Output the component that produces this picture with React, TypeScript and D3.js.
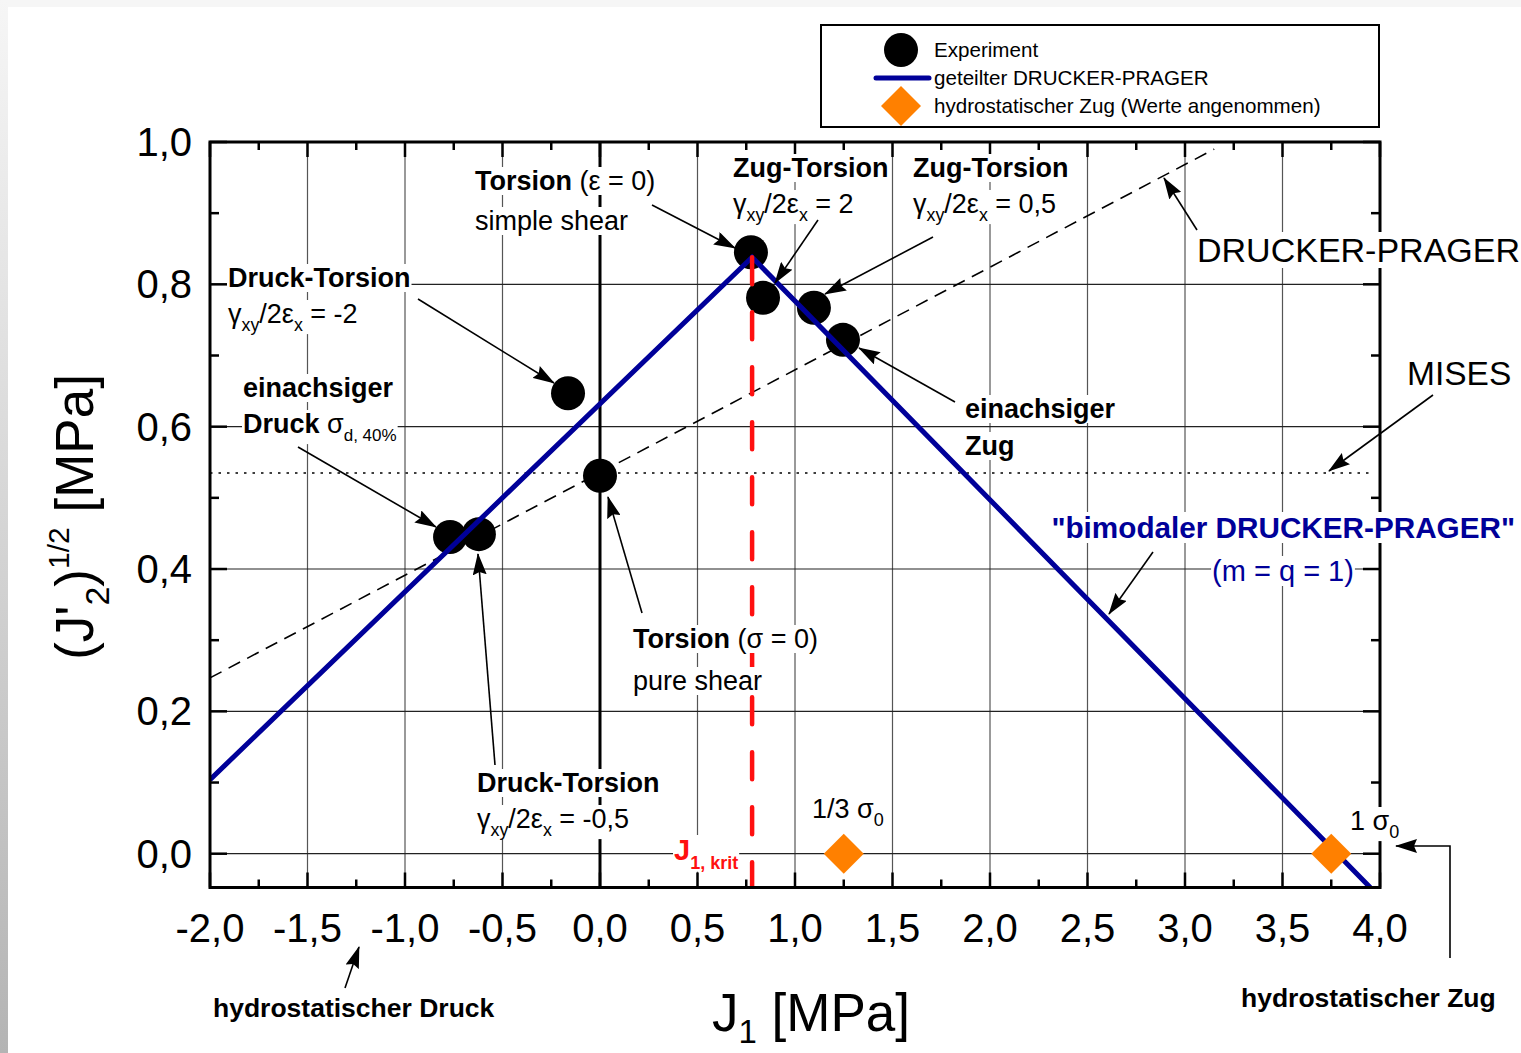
import React, { useEffect, useRef } from 'react';
import * as d3 from 'd3';

// ---- data -------------------------------------------------------------
const J1_TICKS = [-2, -1.5, -1, -0.5, 0, 0.5, 1, 1.5, 2, 2.5, 3, 3.5, 4];
const J1_MINOR = [-1.75, -1.25, -0.75, -0.25, 0.25, 0.75, 1.25, 1.75, 2.25, 2.75, 3.25, 3.75];
const J2_TICKS = [0, 0.2, 0.4, 0.6, 0.8, 1.0];
const J2_MINOR = [0.1, 0.3, 0.5, 0.7, 0.9];

// experiment points: J1 [MPa], (J'2)^1/2 [MPa]
const expJ1 = [0.774, 0.836, 1.097, 1.246, -0.164, -0.769, -0.621, 0.0];
const expJ2 = [0.845, 0.781, 0.767, 0.722, 0.647, 0.445, 0.449, 0.531];

// split (bimodal) Drucker-Prager
const bimodalJ1 = [-2.0, 0.78, 3.95];
const bimodalJ2 = [0.104, 0.838, -0.0475];

// classic Drucker-Prager (dashed)
const dpJ1 = [-2.0, 3.15];
const dpJ2 = [0.247, 0.99];

// von Mises (dotted)
const misesJ1 = [-2.0, 3.97];
const misesJ2 = [0.535, 0.535];

// hydrostatic tension (assumed values)
const hydroJ1 = [1.25, 3.75];
const hydroJ2 = [0, 0];

const J1_KRIT = 0.78;

// ---- style -----------------------------------------------------------
const FONT = "'Liberation Sans', Arial, Helvetica, sans-serif";
const BLUE = '#000099';
const ORANGE = '#ff8000';
const RED = '#ff1010';

type Part = { t: string; b?: boolean; sub?: boolean; sup?: boolean; s?: number; dy?: number };
type Sel = d3.Selection<any, any, any, any>;

// decimal comma and a plain hyphen as minus sign
const fmt = (v: number) => d3.format('.1f')(v).replace('.', ',').replace('\u2212', '-');

function rich(
  g: Sel,
  x: number,
  y: number,
  parts: Part[],
  o: { size: number; anchor?: string; fill?: string; bg?: boolean; transform?: string }
) {
  const text = g
    .append('text')
    .attr('x', x)
    .attr('y', y)
    .attr('font-size', o.size)
    .attr('font-family', FONT)
    .attr('fill', o.fill || '#000')
    .attr('text-anchor', o.anchor || 'start')
    .attr('style', 'white-space:pre');
  if (o.transform) text.attr('transform', o.transform);
  let shift = 0;
  parts.forEach((p) => {
    const target =
      p.dy !== undefined ? p.dy : p.sub ? o.size * 0.3 : p.sup ? -o.size * 0.45 : 0;
    const ts = text.append('tspan').text(p.t).attr('dy', target - shift);
    shift = target;
    if (p.sub || p.sup) ts.attr('font-size', p.s || o.size * 0.66);
    if (p.b) ts.attr('font-weight', 'bold');
  });
  if (o.bg) {
    const bb = (text.node() as SVGTextElement).getBBox();
    g.insert('rect', () => text.node())
      .attr('x', bb.x - 1)
      .attr('y', bb.y + 1)
      .attr('width', bb.width + 2)
      .attr('height', bb.height - 2)
      .attr('fill', '#fff');
  }
  return text;
}

const gamma = (rest: string): Part[] => [
  { t: 'γ' },
  { t: 'xy', sub: true },
  { t: '/2ε' },
  { t: 'x', sub: true },
  { t: rest },
];

function draw(root: Sel) {
  const W = 1521;
  const H = 1053;
  const L = 210, R = 1380, T = 142, B = 887.5;

  const x = d3.scaleLinear().domain([-2, 4]).range([L, R]);
  const y = d3.scaleLinear().domain([-0.0475, 1.0]).range([B, T]);

  const defs = root.append('defs');
  const grad = defs
    .append('linearGradient')
    .attr('id', 'edge')
    .attr('x1', 0)
    .attr('y1', 0)
    .attr('x2', 0)
    .attr('y2', 1);
  grad.append('stop').attr('offset', 0).attr('stop-color', '#f6f6f6');
  grad.append('stop').attr('offset', 1).attr('stop-color', '#b4b4b4');
  defs
    .append('clipPath')
    .attr('id', 'plotclip')
    .append('rect')
    .attr('x', L)
    .attr('y', T)
    .attr('width', R - L)
    .attr('height', B - T);
  defs
    .append('marker')
    .attr('id', 'arrow')
    .attr('viewBox', '0 0 22 14')
    .attr('refX', 21)
    .attr('refY', 7)
    .attr('markerWidth', 22)
    .attr('markerHeight', 14)
    .attr('markerUnits', 'userSpaceOnUse')
    .attr('orient', 'auto')
    .append('path')
    .attr('d', 'M0,0 L22,7 L0,14 L3,7 Z')
    .attr('fill', '#000');

  // page background
  root.append('rect').attr('width', W).attr('height', H).attr('fill', '#fff');
  root.append('rect').attr('width', W).attr('height', 7).attr('fill', '#f6f6f6');
  root.append('rect').attr('y', 0).attr('width', 8).attr('height', H).attr('fill', 'url(#edge)');

  const g = root.append('g');

  // grid
  g.append('g')
    .selectAll('line')
    .data(J1_TICKS.slice(1, -1))
    .join('line')
    .attr('x1', (d) => x(d))
    .attr('x2', (d) => x(d))
    .attr('y1', T)
    .attr('y2', B)
    .attr('stroke', '#555')
    .attr('stroke-width', 1.2);
  g.append('g')
    .selectAll('line')
    .data(J2_TICKS.slice(0, -1))
    .join('line')
    .attr('x1', L)
    .attr('x2', R)
    .attr('y1', (d) => y(d))
    .attr('y2', (d) => y(d))
    .attr('stroke', '#222')
    .attr('stroke-width', 1.2);

  // J1 = 0 axis
  g.append('line')
    .attr('x1', x(0))
    .attr('x2', x(0))
    .attr('y1', T)
    .attr('y2', B)
    .attr('stroke', '#000')
    .attr('stroke-width', 3);

  const plot = g.append('g').attr('clip-path', 'url(#plotclip)');
  const path2 = (xs: number[], ys: number[]) =>
    d3.line()(xs.map((v, i) => [x(v), y(ys[i])] as [number, number]));

  // Mises
  plot
    .append('path')
    .attr('d', path2(misesJ1, misesJ2))
    .attr('stroke', '#000')
    .attr('stroke-width', 1.6)
    .attr('stroke-dasharray', '2.5 6')
    .attr('fill', 'none');
  // Drucker-Prager
  plot
    .append('path')
    .attr('d', path2(dpJ1, dpJ2))
    .attr('stroke', '#000')
    .attr('stroke-width', 1.6)
    .attr('stroke-dasharray', '13 8')
    .attr('fill', 'none');

  // experiments
  plot
    .append('g')
    .selectAll('circle')
    .data(expJ1)
    .join('circle')
    .attr('cx', (d) => x(d))
    .attr('cy', (_, i) => y(expJ2[i]))
    .attr('r', 17)
    .attr('fill', '#000');

  // bimodal Drucker-Prager
  plot
    .append('path')
    .attr('d', path2(bimodalJ1, bimodalJ2))
    .attr('stroke', BLUE)
    .attr('stroke-width', 5)
    .attr('stroke-linejoin', 'miter')
    .attr('fill', 'none');

  // J1,krit
  plot
    .append('line')
    .attr('x1', x(J1_KRIT))
    .attr('x2', x(J1_KRIT))
    .attr('y1', y(bimodalJ2[1]))
    .attr('y2', B)
    .attr('stroke', RED)
    .attr('stroke-width', 4.5)
    .attr('stroke-dasharray', '27 28')
    .attr('stroke-linecap', 'round');

  // hydrostatic tension
  const diamond = d3.symbol().type(d3.symbolSquare).size(800);
  plot
    .append('g')
    .selectAll('path')
    .data(hydroJ1)
    .join('path')
    .attr('d', diamond() as string)
    .attr('transform', (d, i) => `translate(${x(d)},${y(hydroJ2[i])}) rotate(45)`)
    .attr('fill', ORANGE);

  // frame + ticks
  g.append('rect')
    .attr('x', L)
    .attr('y', T)
    .attr('width', R - L)
    .attr('height', B - T)
    .attr('fill', 'none')
    .attr('stroke', '#000')
    .attr('stroke-width', 3);
  const tk = g.append('g').attr('stroke', '#000').attr('stroke-width', 2.5);
  const xt = (vals: number[], len: number) => {
    vals.forEach((v) => {
      tk.append('line').attr('x1', x(v)).attr('x2', x(v)).attr('y1', B).attr('y2', B - len);
      tk.append('line').attr('x1', x(v)).attr('x2', x(v)).attr('y1', T).attr('y2', T + len);
    });
  };
  const yt = (vals: number[], len: number) => {
    vals.forEach((v) => {
      tk.append('line').attr('x1', L).attr('x2', L + len).attr('y1', y(v)).attr('y2', y(v));
      tk.append('line').attr('x1', R).attr('x2', R - len).attr('y1', y(v)).attr('y2', y(v));
    });
  };
  xt(J1_TICKS, 15);
  xt(J1_MINOR, 8);
  yt(J2_TICKS, 17);
  yt(J2_MINOR, 9);

  // tick labels
  const tl = g.append('g').attr('font-family', FONT).attr('font-size', 40).attr('fill', '#000');
  J1_TICKS.forEach((v) => {
    tl.append('text').attr('x', x(v)).attr('y', 942).attr('text-anchor', 'middle').text(fmt(v));
  });
  J2_TICKS.forEach((v) => {
    tl.append('text').attr('x', 192).attr('y', y(v) + 14).attr('text-anchor', 'end').text(fmt(v));
  });

  // axis titles
  rich(g, 712, 1031, [{ t: 'J' }, { t: '1', sub: true, s: 33, dy: 12 }, { t: ' [MPa]' }], {
    size: 53,
  });
  rich(
    g,
    0,
    0,
    [
      { t: '(J\'' },
      { t: '2', sub: true, s: 34 },
      { t: ')' },
      { t: '1/2', sup: true, s: 30 },
      { t: ' [MPa]' },
    ],
    { size: 53, anchor: 'middle', transform: 'translate(93,517) rotate(-90)' }
  );

  // annotations
  const A = 27;
  const an = g.append('g');
  rich(an, 475, 190, [{ t: 'Torsion', b: true }, { t: ' (ε = 0)' }], { size: A, bg: true });
  rich(an, 475, 230, [{ t: 'simple shear' }], { size: A, bg: true });

  rich(an, 228, 287, [{ t: 'Druck-Torsion', b: true }], { size: A, bg: true });
  rich(an, 228, 323, gamma(' = -2'), { size: A, bg: true });

  rich(an, 243, 397, [{ t: 'einachsiger', b: true }], { size: A, bg: true });
  rich(an, 243, 433, [{ t: 'Druck', b: true }, { t: ' σ' }, { t: 'd, 40%', sub: true, s: 17 }], {
    size: A,
    bg: true,
  });

  rich(an, 733, 177, [{ t: 'Zug-Torsion', b: true }], { size: A, bg: true });
  rich(an, 733, 213, gamma(' = 2'), { size: A, bg: true });
  rich(an, 913, 177, [{ t: 'Zug-Torsion', b: true }], { size: A, bg: true });
  rich(an, 913, 213, gamma(' = 0,5'), { size: A, bg: true });

  rich(an, 965, 418, [{ t: 'einachsiger', b: true }], { size: A, bg: true });
  rich(an, 965, 455, [{ t: 'Zug', b: true }], { size: A, bg: true });

  rich(an, 1197, 262, [{ t: 'DRUCKER-PRAGER' }], { size: 34, bg: true });
  rich(an, 1407, 385, [{ t: 'MISES' }], { size: 33.5, bg: true });

  rich(an, 1515, 538, [{ t: '"bimodaler DRUCKER-PRAGER"', b: true }], {
    size: 29.7,
    anchor: 'end',
    fill: BLUE,
    bg: true,
  });
  rich(an, 1283, 581, [{ t: '(m = q = 1)' }], { size: 29, anchor: 'middle', fill: BLUE, bg: true });

  rich(an, 633, 648, [{ t: 'Torsion', b: true }, { t: ' (σ = 0)' }], { size: A, bg: true });
  rich(an, 633, 690, [{ t: 'pure shear' }], { size: A, bg: true });

  rich(an, 477, 792, [{ t: 'Druck-Torsion', b: true }], { size: A, bg: true });
  rich(an, 477, 828, gamma(' = -0,5'), { size: A, bg: true });

  rich(an, 674, 860, [{ t: 'J', b: true }, { t: '1, krit', b: true, sub: true, s: 18 }], {
    size: 29,
    fill: RED,
    bg: true,
  });

  rich(an, 812, 818, [{ t: '1/3 σ' }, { t: '0', sub: true, s: 18 }], { size: A, bg: true });
  rich(an, 1350, 830, [{ t: '1 σ' }, { t: '0', sub: true, s: 18 }], { size: A, bg: true });

  rich(an, 1241, 1007, [{ t: 'hydrostatischer Zug', b: true }], { size: 26.5 });
  rich(an, 213, 1017, [{ t: 'hydrostatischer Druck', b: true }], { size: 26.5 });

  // arrows
  const arrows: [number, number][][] = [
    [[652, 205], [735, 248]],
    [[818, 220], [775, 283]],
    [[933, 237], [825, 294]],
    [[955, 402], [859, 348]],
    [[418, 299], [554, 383]],
    [[298, 447], [436, 527]],
    [[495, 765], [478, 554]],
    [[642, 613], [608, 497]],
    [[1197, 230], [1164, 178]],
    [[1433, 395], [1329, 471]],
    [[1153, 552], [1109, 614]],
    [[1450, 958], [1450, 846], [1396, 846]],
    [[345, 988], [359, 947]],
  ];
  const ag = g.append('g');
  arrows.forEach((pts) => {
    ag.append('path')
      .attr('d', d3.line()(pts))
      .attr('fill', 'none')
      .attr('stroke', '#000')
      .attr('stroke-width', 1.6)
      .attr('marker-end', 'url(#arrow)');
  });

  // legend
  const lg = g.append('g');
  lg.append('rect')
    .attr('x', 821)
    .attr('y', 25)
    .attr('width', 558)
    .attr('height', 102)
    .attr('fill', '#fff')
    .attr('stroke', '#000')
    .attr('stroke-width', 2);
  lg.append('circle').attr('cx', 901).attr('cy', 50).attr('r', 17).attr('fill', '#000');
  lg.append('line')
    .attr('x1', 876)
    .attr('x2', 929)
    .attr('y1', 78)
    .attr('y2', 78)
    .attr('stroke', BLUE)
    .attr('stroke-width', 5)
    .attr('stroke-linecap', 'round');
  lg.append('path')
    .attr('d', diamond() as string)
    .attr('transform', 'translate(901,106) rotate(45)')
    .attr('fill', ORANGE);
  const lt = lg.append('g').attr('font-family', FONT).attr('font-size', 20.6).attr('fill', '#000');
  lt.append('text').attr('x', 934).attr('y', 57).text('Experiment');
  lt.append('text').attr('x', 934).attr('y', 85).text('geteilter DRUCKER-PRAGER');
  lt.append('text').attr('x', 934).attr('y', 113).text('hydrostatischer Zug (Werte angenommen)');
}

export default function App() {
  const ref = useRef<SVGSVGElement>(null);
  useEffect(() => {
    const svg = d3.select(ref.current);
    svg.selectAll('*').remove();
    draw(svg as unknown as Sel);
  }, []);
  return (
    <svg
      ref={ref}
      width={1521}
      height={1053}
      style={{ position: 'absolute', left: 0, top: 0, display: 'block' }}
    />
  );
}
